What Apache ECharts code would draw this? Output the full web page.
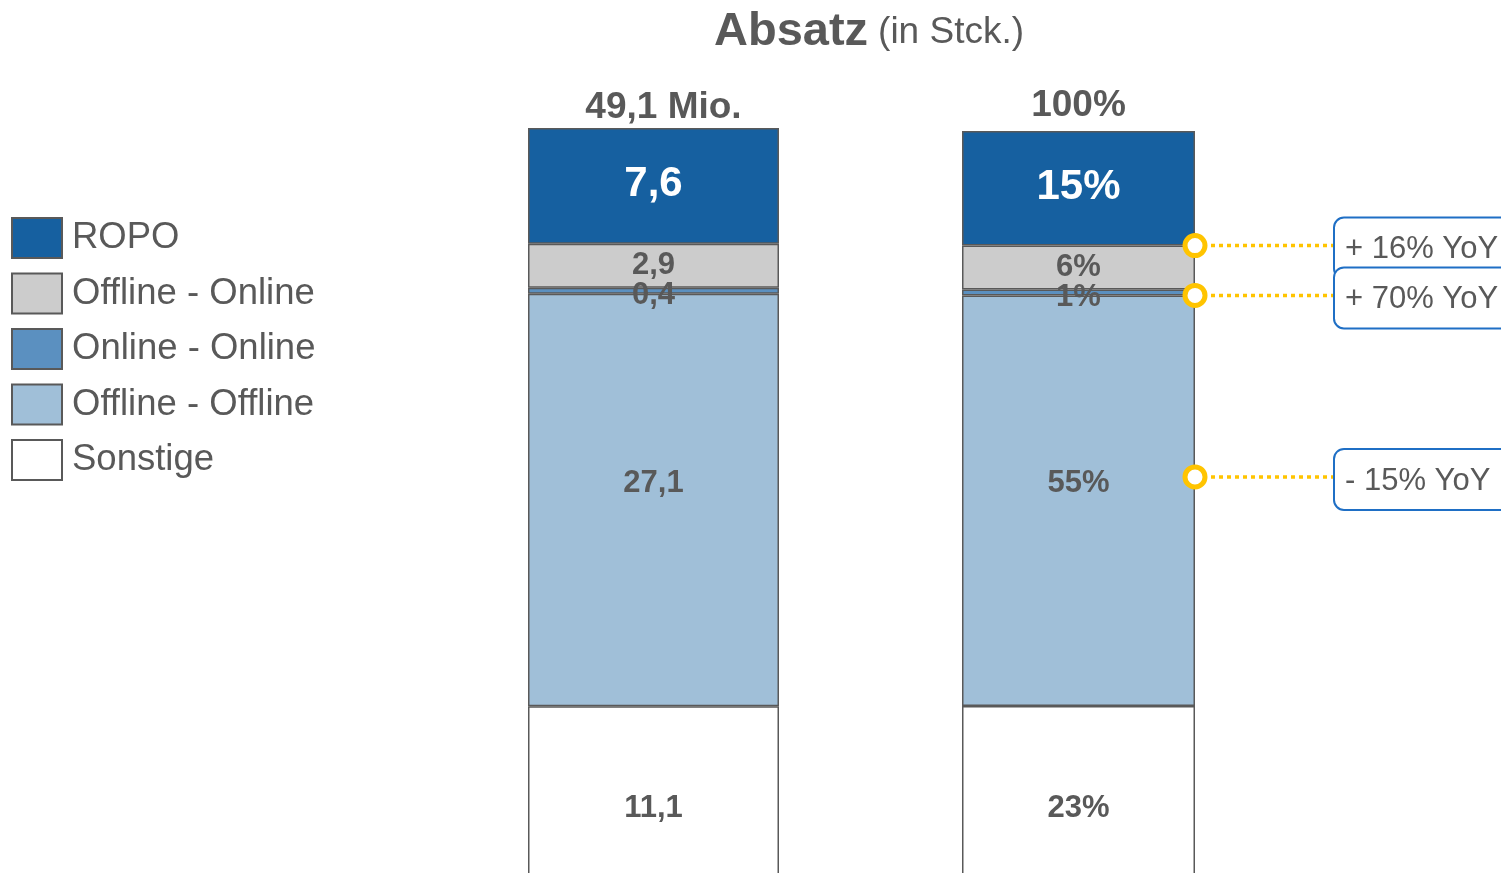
<!DOCTYPE html>
<html>
<head>
<meta charset="utf-8">
<script src="https://cdn.jsdelivr.net/npm/echarts@6/dist/echarts.min.js"></script>
<style>
  html, body { margin: 0; padding: 0; background: #fff; }
  #chart { width: 1501px; height: 873px; }
</style>
</head>
<body>
<div id="chart"></div>
<script>
// --------------------------------------------------------
// data (segments from bottom to top)
const segments = ['Sonstige', 'Offline - Offline', 'Online - Online', 'Offline - Online', 'ROPO'];
const legendOrder = ['ROPO', 'Offline - Online', 'Online - Online', 'Offline - Offline', 'Sonstige'];
const absValues = [11.1, 27.1, 0.4, 2.9, 7.6];     // Mio. Stck.
const shareValues = [22.7, 55.2, 0.8, 5.9, 15.4];  // % of total
const barLabels = ['49,1 Mio.', '100%'];
const yoyLabels = ['+ 16% YoY', '+ 70% YoY', '- 15% YoY'];
const yoyAnchors = [84.6, 77.9, 53.5];             // where the callouts sit on the share bar (%)

// --------------------------------------------------------
// styles
const FONT = '"Liberation Sans", Arial, sans-serif';
const TEXT = '#595959';
const colors = ['#ffffff', '#a0bfd8', '#5b90c0', '#cccccc', '#1660a0'];
const labelShift = [18, -17, 5, 0, -1];
const absGrid = { left: 528, top: 128, width: 251, height: 747, outerBoundsMode: 'none', containLabel: false };
const shareGrid = { left: 962, top: 131, width: 233, height: 744, outerBoundsMode: 'none', containLabel: false };

const fmtAbs = v => v.toFixed(1).replace('.', ',');
const fmtShare = v => Math.round(v) + '%';

function makeSeries(values, idx, stack, fmt) {
    return values.map((v, i) => ({
        name: segments[i],
        type: 'bar',
        stack: stack,
        xAxisIndex: idx,
        yAxisIndex: idx,
        barWidth: '100%',
        data: [v],
        itemStyle: {
            color: colors[i],
            borderColor: TEXT,
            borderWidth: 1.5
        },
        label: {
            show: true,
            position: 'inside',
            offset: [0, labelShift[i]],
            formatter: p => fmt(p.value),
            color: i === 4 ? '#ffffff' : TEXT,
            fontSize: i === 4 ? 42 : 31,
            fontWeight: 'bold',
            fontFamily: FONT
        }
    }));
}

const total = absValues.reduce((a, b) => a + b, 0);

const option = {
    animation: false,
    title: {
        text: '{b|Absatz}  {n|(in Stck.)}',
        left: 709,
        top: 4,
        textStyle: {
            fontWeight: 'normal',
            rich: {
                b: { fontSize: 47, fontWeight: 'bold', color: TEXT, fontFamily: FONT },
                n: { fontSize: 37, fontWeight: 'normal', color: TEXT, fontFamily: FONT }
            }
        }
    },
    legend: {
        orient: 'vertical',
        left: 11,
        top: 217,
        padding: 0,
        icon: 'rect',
        itemWidth: 50,
        itemHeight: 40,
        itemGap: 13.5,
        selectedMode: false,
        data: legendOrder,
        itemStyle: { borderWidth: 2 },
        textStyle: { fontSize: 36.5, color: TEXT, fontFamily: FONT, padding: [3, 0, 0, 5] }
    },
    grid: [absGrid, shareGrid],
    xAxis: [0, 1].map(i => ({
        gridIndex: i,
        type: 'category',
        position: 'top',
        data: [barLabels[i]],
        axisLine: { show: false },
        axisTick: { show: false },
        axisLabel: {
            margin: i === 0 ? 2 : 7,
            fontSize: 37,
            fontWeight: 'bold',
            color: TEXT,
            fontFamily: FONT,
            padding: i === 0 ? [0, 0, 0, 20] : 0
        }
    })),
    yAxis: [
        { gridIndex: 0, type: 'value', min: 0, max: total, show: false },
        { gridIndex: 1, type: 'value', min: 0, max: 100, show: false }
    ],
    series: makeSeries(absValues, 0, 'abs', fmtAbs)
        .concat(makeSeries(shareValues, 1, 'share', fmtShare))
};

const chart = echarts.init(document.getElementById('chart'));
chart.setOption(option);

// --------------------------------------------------------
// YoY callouts on the right side of the share bar
const barRight = shareGrid.left + shareGrid.width;
const boxLeft = 1334;
const graphics = [];
yoyAnchors.forEach((v, i) => {
    const y = chart.convertToPixel({ gridIndex: 1 }, [barLabels[1], v])[1];
    const z = 100 + i * 5;
    graphics.push({
        type: 'line', z: z,
        shape: { x1: barRight, y1: y, x2: boxLeft, y2: y },
        style: { stroke: '#ffc400', lineWidth: 3.5, lineDash: [4, 4] }
    });
    graphics.push({
        type: 'circle', z: z + 1,
        shape: { cx: barRight, cy: y, r: 10 },
        style: { fill: '#ffffff', stroke: '#ffc400', lineWidth: 5 }
    });
    graphics.push({
        type: 'rect', z: z + 2,
        shape: { x: boxLeft, y: y - 28, width: 220, height: 61, r: 10 },
        style: { fill: '#ffffff', stroke: '#1f6fc5', lineWidth: 2 }
    });
    graphics.push({
        type: 'text', z: z + 3,
        x: boxLeft + 11, y: y + 4,
        style: {
            text: yoyLabels[i],
            fill: TEXT,
            font: '31px ' + FONT,
            verticalAlign: 'middle'
        }
    });
});
chart.setOption({ graphic: graphics });
</script>
</body>
</html>
